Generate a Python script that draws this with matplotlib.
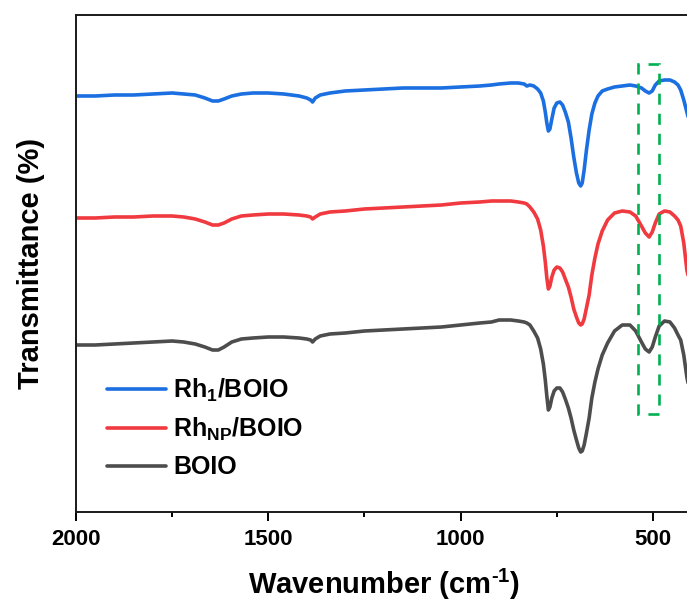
import matplotlib
matplotlib.use("Agg")
import matplotlib.pyplot as plt
from matplotlib.patches import Rectangle
from matplotlib.ticker import MultipleLocator

plt.rcParams['font.family'] = ['Liberation Sans', 'DejaVu Sans']
plt.rcParams['font.weight'] = 'bold'
plt.rcParams['mathtext.fontset'] = 'custom'
plt.rcParams['mathtext.rm'] = 'Liberation Sans:bold'
plt.rcParams['mathtext.bf'] = 'Liberation Sans:bold'
plt.rcParams['mathtext.it'] = 'Liberation Sans:bold'
plt.rcParams['mathtext.default'] = 'bf'

# wavenumber grid shared by the three spectra (cm-1)
wavenumber = [2000, 1950, 1900, 1850, 1800, 1750, 1720, 1690, 1665, 1645,
              1630, 1615, 1595, 1570, 1540, 1500, 1460, 1420, 1400, 1390,
              1385, 1378, 1365, 1340, 1300, 1250, 1200, 1150, 1100, 1050,
              1000, 950, 920, 900, 870, 850, 835, 828, 820, 810,
              800, 792, 785, 780, 776, 772, 768, 763, 757, 750,
              742, 735, 728, 720, 713, 706, 699, 693, 688, 684,
              679, 673, 666, 659, 651, 643, 632, 618, 600, 580,
              560, 545, 530, 520, 510, 502, 494, 484, 470, 456,
              444, 435, 428, 420, 412, 400]

# stacked transmittance, offset for display (a.u.)
t_rh1 = [83.2, 83.2, 83.4, 83.4, 83.6, 83.8, 83.6, 83.4, 82.8, 82.2,
         82.2, 82.6, 83.2, 83.6, 83.8, 83.8, 83.6, 83.2, 82.8, 82.4,
         82.0, 82.8, 83.4, 83.8, 84.2, 84.4, 84.6, 84.8, 84.8, 84.8,
         85.0, 85.2, 85.4, 85.6, 85.8, 85.8, 85.6, 85.2, 85.4, 85.2,
         84.6, 83.8, 82.2, 80.0, 77.8, 76.2, 76.6, 78.6, 80.8, 81.8,
         82.0, 81.4, 80.0, 78.0, 74.8, 71.0, 67.8, 65.8, 65.2, 65.8,
         68.4, 72.4, 76.4, 79.6, 81.8, 83.2, 84.2, 84.6, 85.0, 85.2,
         85.4, 85.2, 84.8, 84.2, 83.8, 84.2, 85.4, 86.2, 86.4, 86.4,
         86.0, 85.4, 84.4, 82.4, 80.0, 76.4]

t_rhnp = [58.8, 58.8, 59.0, 59.0, 59.2, 59.2, 59.0, 58.6, 58.0, 57.4,
          57.4, 57.8, 58.6, 59.2, 59.4, 59.6, 59.6, 59.4, 59.2, 59.0,
          58.6, 59.0, 59.6, 60.0, 60.2, 60.6, 60.8, 61.0, 61.2, 61.4,
          61.8, 62.0, 62.2, 62.2, 62.2, 62.0, 61.8, 61.6, 61.0, 60.0,
          58.6, 56.4, 53.2, 50.0, 46.8, 44.6, 45.2, 47.0, 48.4, 49.0,
          48.8, 48.0, 46.6, 45.0, 43.0, 40.6, 39.0, 37.8, 37.4, 37.6,
          38.6, 40.8, 43.4, 47.4, 50.8, 53.6, 56.2, 58.4, 59.8, 60.2,
          60.0, 59.2, 57.2, 55.8, 55.0, 56.0, 57.8, 59.6, 60.2, 60.0,
          59.2, 58.4, 57.2, 53.8, 48.4, 44.4]

t_boio = [33.4, 33.4, 33.6, 33.8, 34.0, 34.2, 34.0, 33.6, 33.0, 32.4,
          32.4, 33.0, 34.0, 34.6, 34.8, 35.0, 35.0, 34.8, 34.6, 34.4,
          34.0, 34.6, 35.2, 35.6, 35.8, 36.2, 36.4, 36.6, 36.8, 37.0,
          37.4, 37.8, 38.0, 38.4, 38.4, 38.2, 38.0, 37.8, 37.4, 36.2,
          34.8, 32.6, 29.6, 26.4, 23.2, 20.4, 21.0, 22.8, 24.2, 24.8,
          24.8, 24.0, 22.6, 20.8, 18.8, 16.4, 14.4, 12.8, 12.0, 12.2,
          13.4, 15.8, 18.8, 22.8, 26.0, 28.6, 31.4, 33.8, 36.2, 37.4,
          37.4, 36.2, 34.0, 32.6, 32.0, 33.0, 35.0, 37.2, 38.2, 38.0,
          36.8, 35.4, 34.4, 31.4, 27.0, 22.4]

labels = [r'Rh$_{1}$/BOIO', r'Rh$_{NP}$/BOIO', 'BOIO']
colors = ['#1b6fe0', '#f03a3f', '#4d4d4d']

# window highlighting the ~510 cm-1 band
box_x = [539, 484]
box_y = [19.6, 89.6]

fig = plt.figure(figsize=(6.87, 6.07), dpi=100)
ax = fig.add_axes([0.1106, 0.1565, 0.8959, 0.8188])

for series, lab, c in zip([t_rh1, t_rhnp, t_boio], labels, colors):
    ax.plot(wavenumber, series, color=c, lw=2.6, label=lab,
            solid_joinstyle='round', solid_capstyle='round')

ax.add_patch(Rectangle((box_x[1], box_y[0]), box_x[0] - box_x[1], box_y[1] - box_y[0],
                       fill=False, edgecolor='#00b050', lw=1.9,
                       linestyle=(0, (4.2, 3.4)), zorder=3))

ax.set_xlim(2000, 400)
ax.set_ylim(0, 99.4)
ax.xaxis.set_major_locator(MultipleLocator(500))
ax.xaxis.set_minor_locator(MultipleLocator(250))
ax.set_yticks([])
ax.tick_params(axis='x', which='major', direction='out', length=6.5, width=1.4,
               labelsize=16, pad=6)
ax.tick_params(axis='x', which='minor', direction='out', length=3.5, width=1.4)
for s in ax.spines.values():
    s.set_linewidth(1.4)
    s.set_color('#1a1a1a')

ax.set_xlabel(r'Wavenumber (cm$^{\text{-}1}$)', fontsize=21, fontweight='bold', labelpad=12)
ax.set_ylabel('Transmittance (%)', fontsize=21, fontweight='bold', labelpad=22)

ax.legend(loc='upper left', bbox_to_anchor=(107 / 687, 1 - 377 / 607),
          bbox_transform=fig.transFigure, frameon=False, fontsize=18,
          handlelength=2.35, handletextpad=0.3, labelspacing=0.48,
          borderpad=0, borderaxespad=0)

fig.savefig('out.png', dpi=100)
